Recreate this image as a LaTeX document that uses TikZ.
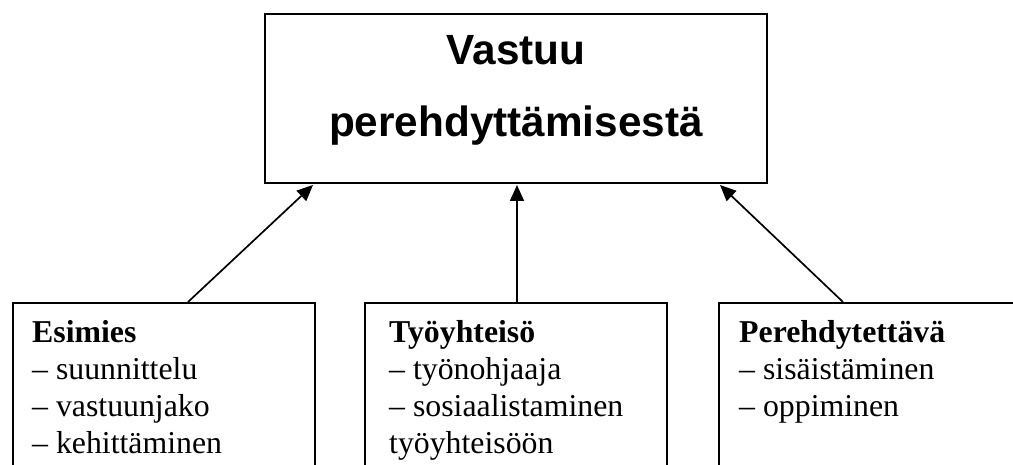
\documentclass[tikz,border=0pt]{standalone}
\usepackage{fontspec}
\setmainfont{Liberation Serif}
\newfontfamily\arialfont{Liberation Sans}
\usetikzlibrary{arrows.meta,calc}
\tikzset{
  boxframe/.style={draw=black, line width=2pt, rectangle, inner sep=0pt, anchor=north west},
  titletext/.style={font=\arialfont\bfseries\fontsize{42.3}{50}\selectfont, anchor=base, inner sep=0pt},
  itemtext/.style={font=\fontsize{31.8}{36.7}\selectfont, anchor=base west, inner sep=0pt},
  conn/.style={line width=1.7pt, -{Triangle[length=16pt,width=14pt]}}
}
\begin{document}
\begin{tikzpicture}[x=1pt,y=-1pt]
\useasboundingbox (0,0) rectangle (1013,465);
\clip (0,0) rectangle (1013,465);
% top box
\node[boxframe, minimum width=502pt, minimum height=169pt] (top) at (264,13) {};
\node[titletext] (t1) at (516,65) {Vastuu};
\node[titletext] (t2) at (516,137) {perehdyttämisestä};
% bottom boxes
\node[boxframe, minimum width=302pt, minimum height=220pt] (lbox) at (12,302) {};
\node[boxframe, minimum width=302pt, minimum height=220pt] (mbox) at (364,302) {};
\node[boxframe, minimum width=330pt, minimum height=220pt] (rbox) at (718,302) {};
\node[itemtext] (ltext) at (32,343) {\begin{tabular}[t]{@{}l@{}}\textbf{Esimies}\\ – suunnittelu\\ – vastuunjako\\ – kehittäminen\end{tabular}};
\node[itemtext] (mtext) at (389,343) {\begin{tabular}[t]{@{}l@{}}\textbf{Työyhteisö}\\ – työnohjaaja\\ – sosiaalistaminen\\ työyhteisöön\end{tabular}};
\node[itemtext] (rtext) at (739,343) {\begin{tabular}[t]{@{}l@{}}\textbf{Perehdytettävä}\\ – sisäistäminen\\ – oppiminen\end{tabular}};
% connectors
\draw[conn] ($(lbox.north west)+(176,0)$) -- ($(top.south west)+(49,1)$);
\draw[conn] ($(mbox.north west)+(153,0)$) -- ($(top.south west)+(253,1)$);
\draw[conn] ($(rbox.north west)+(125,0)$) -- ($(top.south west)+(456,1)$);
\end{tikzpicture}
\end{document}
